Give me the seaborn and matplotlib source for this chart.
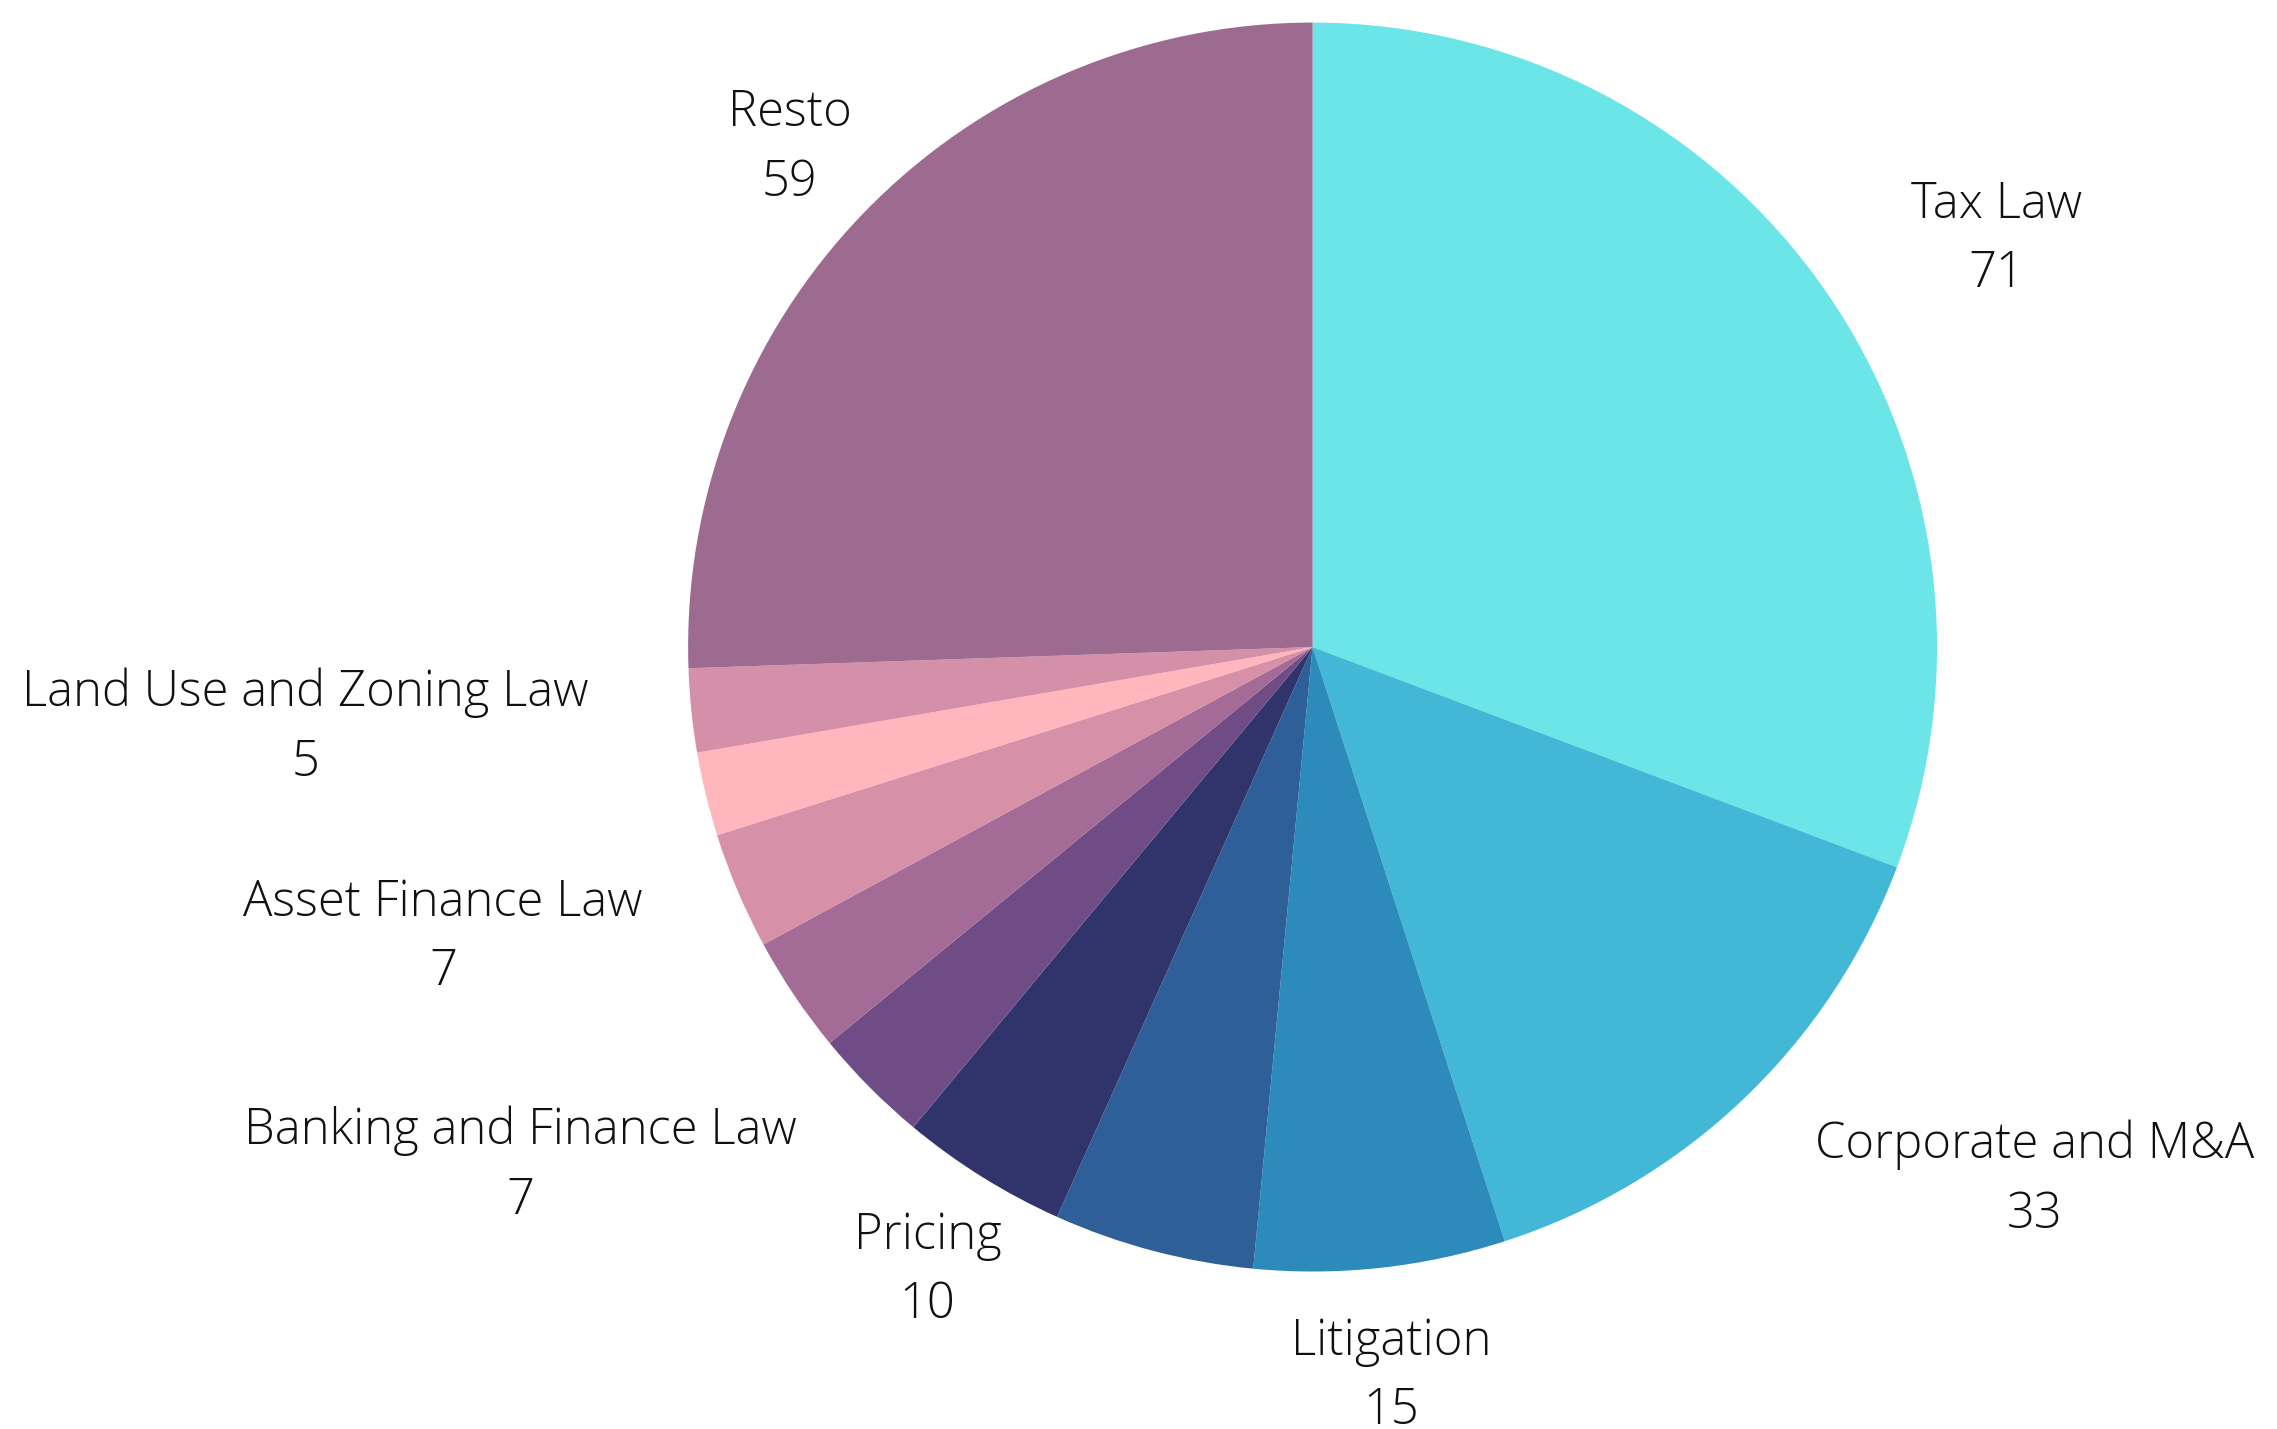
# Pie chart: areas of practice
import numpy as np
import matplotlib.pyplot as plt
import seaborn as sns

sns.set_theme(style='white')
plt.rcParams['font.family'] = ['Open Sans', 'DejaVu Sans']

# Data (clockwise from 12 o'clock); empty names = slices without a label
areas = ['Tax Law', 'Corporate and M&A', 'Litigation', '', 'Pricing',
         'Banking and Finance Law', '', 'Asset Finance Law', '',
         'Land Use and Zoning Law', 'Resto']
counts = [71, 33, 15, 12, 10, 7, 7, 7, 5, 5, 59]
colores = ['#6be5e8', '#42b7d6', '#2c8bba', '#2e5f98', '#30346b', '#6f4c85',
           '#a46b96', '#d690a8', '#ffb6bd', '#d490a9', '#9c6b8f']
alineacion = ['left', 'left', 'center', 'center', 'center', 'right',
              'right', 'right', 'right', 'right', 'center']

fig = plt.figure(figsize=(22.77, 14.29), dpi=100)
ax = fig.add_axes([0.3022, 0.1102, 0.5485, 0.874])

wedges, _ = ax.pie(counts, colors=colores, startangle=90, counterclock=False,
                   wedgeprops=dict(linewidth=0))
ax.set_xlim(-1, 1)
ax.set_ylim(-1, 1)
ax.set_aspect('auto')
ax.axis('off')

# Etiquetas fuera del pastel
total = sum(counts)
acum = 0
for nombre, n, ha in zip(areas, counts, alineacion):
    mitad = (acum + n / 2) / total * 2 * np.pi
    acum += n
    if not nombre:
        continue
    x = 1.165 * np.sin(mitad)
    y = 1.165 * np.cos(mitad) - 0.01
    ax.text(x, y, f'{nombre}\n{n}', ha=ha, va='center', multialignment='center',
            fontsize=35.2, fontweight=300, color='#111111', linespacing=1.52,
            clip_on=False)

plt.savefig('out.png', dpi=100)
